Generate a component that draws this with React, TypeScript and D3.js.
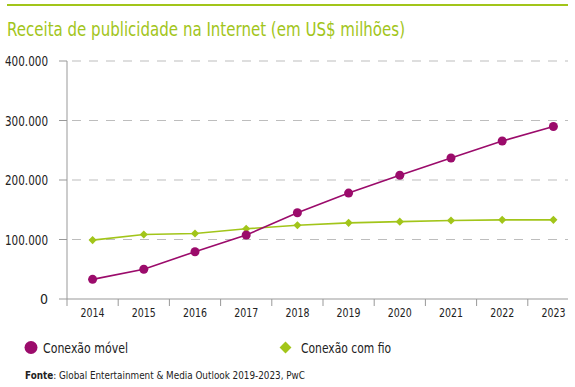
import React from "react";
import * as d3 from "d3";

const years = ["2014", "2015", "2016", "2017", "2018", "2019", "2020", "2021", "2022", "2023"];
const mobile = [33000, 50000, 79500, 107500, 145000, 178000, 208000, 237000, 265500, 290000];
const wired = [99000, 108500, 110000, 118000, 124000, 128000, 130000, 132000, 133000, 133000];
const yTicks = [0, 100000, 200000, 300000, 400000];
const seriesNames = ["Conexão móvel", "Conexão com fio"];

const PURPLE = "#9b0b6b";
const GREEN = "#a2c51a";
const FONT = "'DejaVu Sans Condensed', 'Liberation Sans Narrow', 'Roboto', sans-serif";

export default function App() {
  const W = 575, H = 387;
  const x = d3.scaleBand<string>().domain(years).range([67, 579]);
  const y = d3.scaleLinear().domain([0, 400000]).range([299, 61]);
  const cx = (d: string) => (x(d) as number) + x.bandwidth() / 2;
  const fmt = (v: number) => (v === 0 ? "0" : d3.format(",")(v).replace(/,/g, "."));
  const line = d3.line<number>().x((_, i) => cx(years[i])).y((v) => y(v));
  const diamond = d3.symbol().type(d3.symbolDiamond2);

  return (
    <svg width={W} height={H} style={{ position: "absolute", left: 0, top: 0 }} fontFamily={FONT}>
      <rect x={0} y={0} width={W} height={H} fill="#fff" />
      <line x1={7} x2={568} y1={5} y2={5} stroke={GREEN} strokeWidth={2} />
      <text x={7} y={35.5} fontSize={19} fill={GREEN} textLength={398} lengthAdjust="spacingAndGlyphs">
        Receita de publicidade na Internet (em US$ milhões)
      </text>

      {yTicks.map((t) => (
        <g key={t}>
          {t > 0 && (
            <line x1={72} x2={568} y1={y(t)} y2={y(t)} stroke="#bdbdbd" strokeWidth={1} strokeDasharray="9,8" />
          )}
          <line x1={59} x2={67} y1={y(t)} y2={y(t)} stroke="#999" />
          <text
            x={48}
            y={y(t)}
            dy="0.36em"
            textAnchor="end"
            fontSize={14}
            fill="#222"
            {...(t > 0 ? { textLength: 43, lengthAdjust: "spacingAndGlyphs" } : {})}
          >
            {fmt(t)}
          </text>
        </g>
      ))}
      <line x1={67} x2={67} y1={61} y2={306} stroke="#999" />
      <line x1={67} x2={568} y1={299} y2={299} stroke="#999" />
      {years.map((yr, i) => (
        <g key={yr}>
          {i > 0 && <line x1={x(yr)} x2={x(yr)} y1={299} y2={306} stroke="#999" />}
          <text x={cx(yr)} y={317} textAnchor="middle" fontSize={13} fill="#222" textLength={24} lengthAdjust="spacingAndGlyphs">
            {yr}
          </text>
        </g>
      ))}

      <path d={line(wired) || ""} fill="none" stroke={GREEN} strokeWidth={1.6} />
      {wired.map((v, i) => (
        <path key={"w" + i} d={diamond.size(42)() || ""} transform={`translate(${cx(years[i])},${y(v)})`} fill={GREEN} />
      ))}
      <path d={line(mobile) || ""} fill="none" stroke={PURPLE} strokeWidth={1.6} />
      {mobile.map((v, i) => (
        <circle key={"m" + i} cx={cx(years[i])} cy={y(v)} r={4.5} fill={PURPLE} />
      ))}

      <circle cx={31} cy={347.5} r={6.5} fill={PURPLE} />
      <text x={43} y={352.5} fontSize={14} fill="#222" textLength={85} lengthAdjust="spacingAndGlyphs">{seriesNames[0]}</text>
      <path d={d3.symbol().type(d3.symbolDiamond2).size(90)() || ""} transform="translate(285.5,347.5)" fill={GREEN} />
      <text x={301} y={352.5} fontSize={14} fill="#222" textLength={90} lengthAdjust="spacingAndGlyphs">{seriesNames[1]}</text>

      <text x={25} y={378.5} fontSize={10} fill="#222" textLength={280} lengthAdjust="spacingAndGlyphs">
        <tspan fontWeight="bold">Fonte</tspan>: Global Entertainment &amp; Media Outlook 2019-2023, PwC
      </text>
    </svg>
  );
}
